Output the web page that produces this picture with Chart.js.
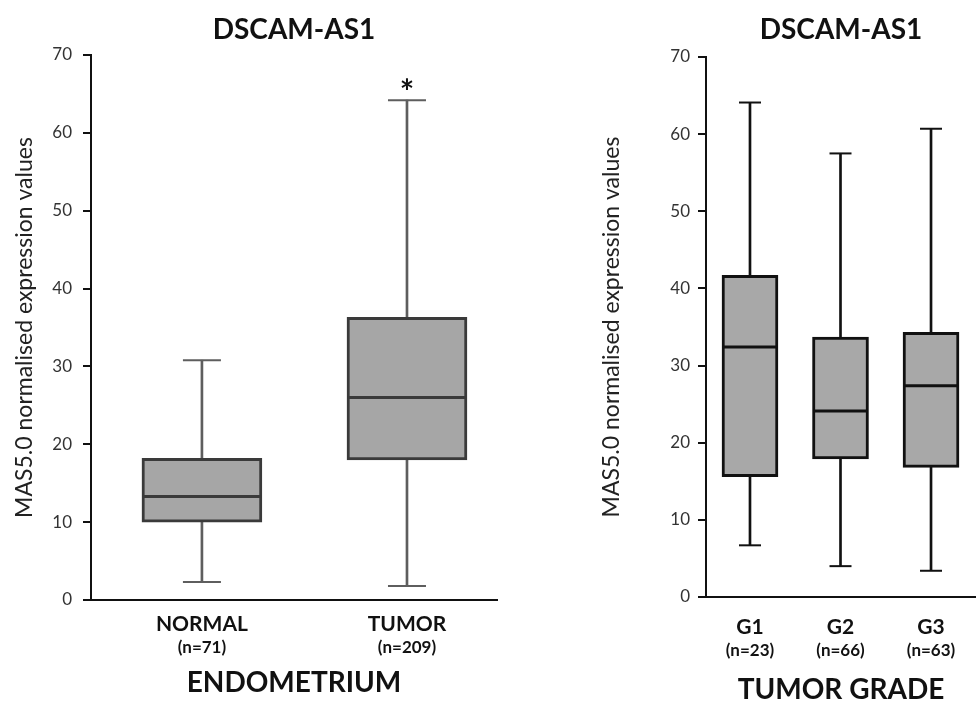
<!DOCTYPE html>
<html>
<head>
<meta charset="utf-8">
<script src="https://cdn.jsdelivr.net/npm/chart.js@4.4.1/dist/chart.umd.min.js"></script>
<style>
  html, body { margin: 0; padding: 0; background: #fff; }
  body { width: 976px; height: 708px; position: relative; overflow: hidden; }
  canvas { position: absolute; top: 0; }
  #endoChart { left: 0; }
  #gradeChart { left: 590px; }
</style>
</head>
<body>
<canvas id="endoChart" width="500" height="708"></canvas>
<canvas id="gradeChart" width="386" height="708"></canvas>
<script>
// endometrium: normal vs tumor
const endoCategories = ['NORMAL', 'TUMOR'];
const endoCounts = ['(n=71)', '(n=209)'];
const endoMin = [2.3, 1.8];
const endoQ1 = [10.0, 18.0];
const endoMedian = [13.3, 26.0];
const endoQ3 = [18.2, 36.3];
const endoMax = [30.8, 64.2];
const endoMarks = ['', '*'];

// tumor grade
const gradeCategories = ['G1', 'G2', 'G3'];
const gradeCounts = ['(n=23)', '(n=66)', '(n=63)'];
const gradeMin = [6.7, 4.0, 3.4];
const gradeQ1 = [15.6, 17.9, 16.8];
const gradeMedian = [32.4, 24.1, 27.4];
const gradeQ3 = [41.7, 33.7, 34.3];
const gradeMax = [64.1, 57.5, 60.7];

const yTicks = [0, 10, 20, 30, 40, 50, 60, 70];
const yLabel = 'MAS5.0 normalised expression values';

// title over the plot area + significance marks above the whiskers
const boxText = {
    id: 'boxText',
    afterDraw(chart, args, o) {
        const {ctx, chartArea, scales} = chart;
        ctx.save();
        ctx.fillStyle = '#111';
        ctx.textAlign = 'center';
        ctx.textBaseline = 'middle';
        ctx.font = 'bold 28px Lato';
        ctx.fillText(o.title, (chartArea.left + chartArea.right) / 2, o.titleY);
        ctx.font = 'bold 34px Lato';
        (o.marks || []).forEach((m, i) => {
            if (!m) return;
            ctx.fillText(m, scales.x.getPixelForValue(i + 1), scales.y.getPixelForValue(o.tops[i]) - 7);
        });
        ctx.restore();
    }
};

function boxChart(canvasId, s) {
    const xs = s.categories.map((c, i) => i + 1);
    const pts = vals => vals.map((v, i) => ({x: i + 1, y: v}));
    const setTicks = scale => { scale.ticks = xs.map(v => ({value: v})); };
    // fixed band height, and no extra side padding for the labels
    const band = h => scale => {
        scale.height = h;
        scale.paddingLeft = 0;
        scale.paddingRight = 0;
    };

    return new Chart(document.getElementById(canvasId), {
        type: 'bar',
        data: {
            datasets: [
                {
                    label: 'whisker',
                    data: xs.map((x, i) => ({x: x, y: [s.min[i], s.max[i]]})),
                    barThickness: s.whiskerWidth,
                    backgroundColor: s.whiskerColor,
                    borderWidth: 0,
                    grouped: false,
                    order: 3
                },
                {
                    label: 'box',
                    data: xs.map((x, i) => ({x: x, y: [s.q1[i], s.q3[i]]})),
                    barThickness: s.boxWidth,
                    backgroundColor: s.fill,
                    borderColor: s.line,
                    borderWidth: s.boxLine,
                    borderSkipped: false,
                    grouped: false,
                    order: 2
                },
                {
                    type: 'line',
                    label: 'median',
                    data: pts(s.median),
                    showLine: false,
                    pointStyle: 'line',
                    pointRadius: s.boxWidth / 2 - 1,
                    pointBorderWidth: s.medianLine,
                    pointBorderColor: s.line,
                    order: 1
                },
                {
                    type: 'line',
                    label: 'caps',
                    data: pts(s.min).concat(pts(s.max)),
                    showLine: false,
                    pointStyle: 'line',
                    pointRadius: s.capHalf,
                    pointBorderWidth: s.whiskerWidth,
                    pointBorderColor: s.whiskerColor,
                    order: 1
                }
            ]
        },
        options: {
            responsive: false,
            animation: false,
            events: [],
            layout: {autoPadding: false, padding: {top: s.top, right: s.right, bottom: 0, left: 0}},
            plugins: {
                legend: {display: false},
                tooltip: {enabled: false},
                boxText: {title: 'DSCAM-AS1', titleY: s.titleY, marks: s.marks, tops: s.max}
            },
            scales: {
                x: {
                    type: 'linear',
                    min: s.xMin,
                    max: s.xMax,
                    bounds: 'data',
                    offset: false,
                    weight: 0,
                    grid: {display: false, drawTicks: false, offset: false},
                    border: {display: true, color: '#111', width: 2},
                    afterBuildTicks: setTicks,
                    ticks: {
                        autoSkip: false,
                        maxRotation: 0,
                        padding: s.namePad,
                        color: '#111',
                        font: {family: 'Lato', weight: 'bold', size: 21},
                        callback: v => s.categories[v - 1]
                    },
                    afterFit: band(s.nameBand)
                },
                x2: {
                    type: 'linear',
                    position: 'bottom',
                    min: s.xMin,
                    max: s.xMax,
                    bounds: 'data',
                    offset: false,
                    weight: 1,
                    grid: {display: false, drawTicks: false, offset: false},
                    border: {display: false},
                    afterBuildTicks: setTicks,
                    ticks: {
                        autoSkip: false,
                        maxRotation: 0,
                        padding: s.countPad,
                        color: '#111',
                        font: {family: 'Lato', weight: 'bold', size: 17},
                        callback: v => s.counts[v - 1]
                    },
                    title: {
                        display: true,
                        text: s.axisTitle,
                        color: '#111',
                        font: {family: 'Lato', weight: 'bold', size: 28},
                        padding: {top: 0, bottom: s.titlePad}
                    },
                    afterFit: band(s.countBand)
                },
                y: {
                    min: 0,
                    max: 70,
                    afterBuildTicks: scale => { scale.ticks = yTicks.map(v => ({value: v})); },
                    grid: {drawOnChartArea: false, tickLength: 8, color: '#111', lineWidth: 2},
                    border: {color: '#111', width: 2},
                    ticks: {padding: s.tickPad, color: '#333', font: {family: 'Lato', size: 17}},
                    title: {
                        display: true,
                        text: yLabel,
                        color: '#222',
                        font: {family: 'Lato', size: 23},
                        padding: {top: s.yTitlePad, bottom: 0}
                    },
                    afterFit: scale => { scale.width = s.yBand; }
                }
            }
        },
        plugins: [boxText]
    });
}

boxChart('endoChart', {
    categories: endoCategories, counts: endoCounts, axisTitle: 'ENDOMETRIUM',
    min: endoMin, q1: endoQ1, median: endoMedian, q3: endoQ3, max: endoMax, marks: endoMarks,
    xMin: 0.459, xMax: 2.439,
    top: 55, right: 3, titleY: 30,
    yBand: 91, tickPad: 11, yTitlePad: 11,
    nameBand: 36, namePad: 12, countPad: 1, countBand: 72, titlePad: 8,
    boxWidth: 120, capHalf: 19, boxLine: 3, medianLine: 3, whiskerWidth: 2,
    fill: '#a6a6a6', line: '#3a3a3a', whiskerColor: '#5e5e5e'
});

boxChart('gradeChart', {
    categories: gradeCategories, counts: gradeCounts, axisTitle: 'TUMOR GRADE',
    min: gradeMin, q1: gradeQ1, median: gradeMedian, q3: gradeQ3, max: gradeMax, marks: [],
    xMin: 0.514, xMax: 3.497,
    top: 57, right: 0, titleY: 30,
    yBand: 116, tickPad: 8, yTitlePad: 8,
    nameBand: 40, namePad: 18, countPad: 3, countBand: 71, titlePad: 1,
    boxWidth: 56, capHalf: 11, boxLine: 3, medianLine: 3, whiskerWidth: 2,
    fill: '#a8a8a8', line: '#111', whiskerColor: '#111'
});
</script>
</body>
</html>
